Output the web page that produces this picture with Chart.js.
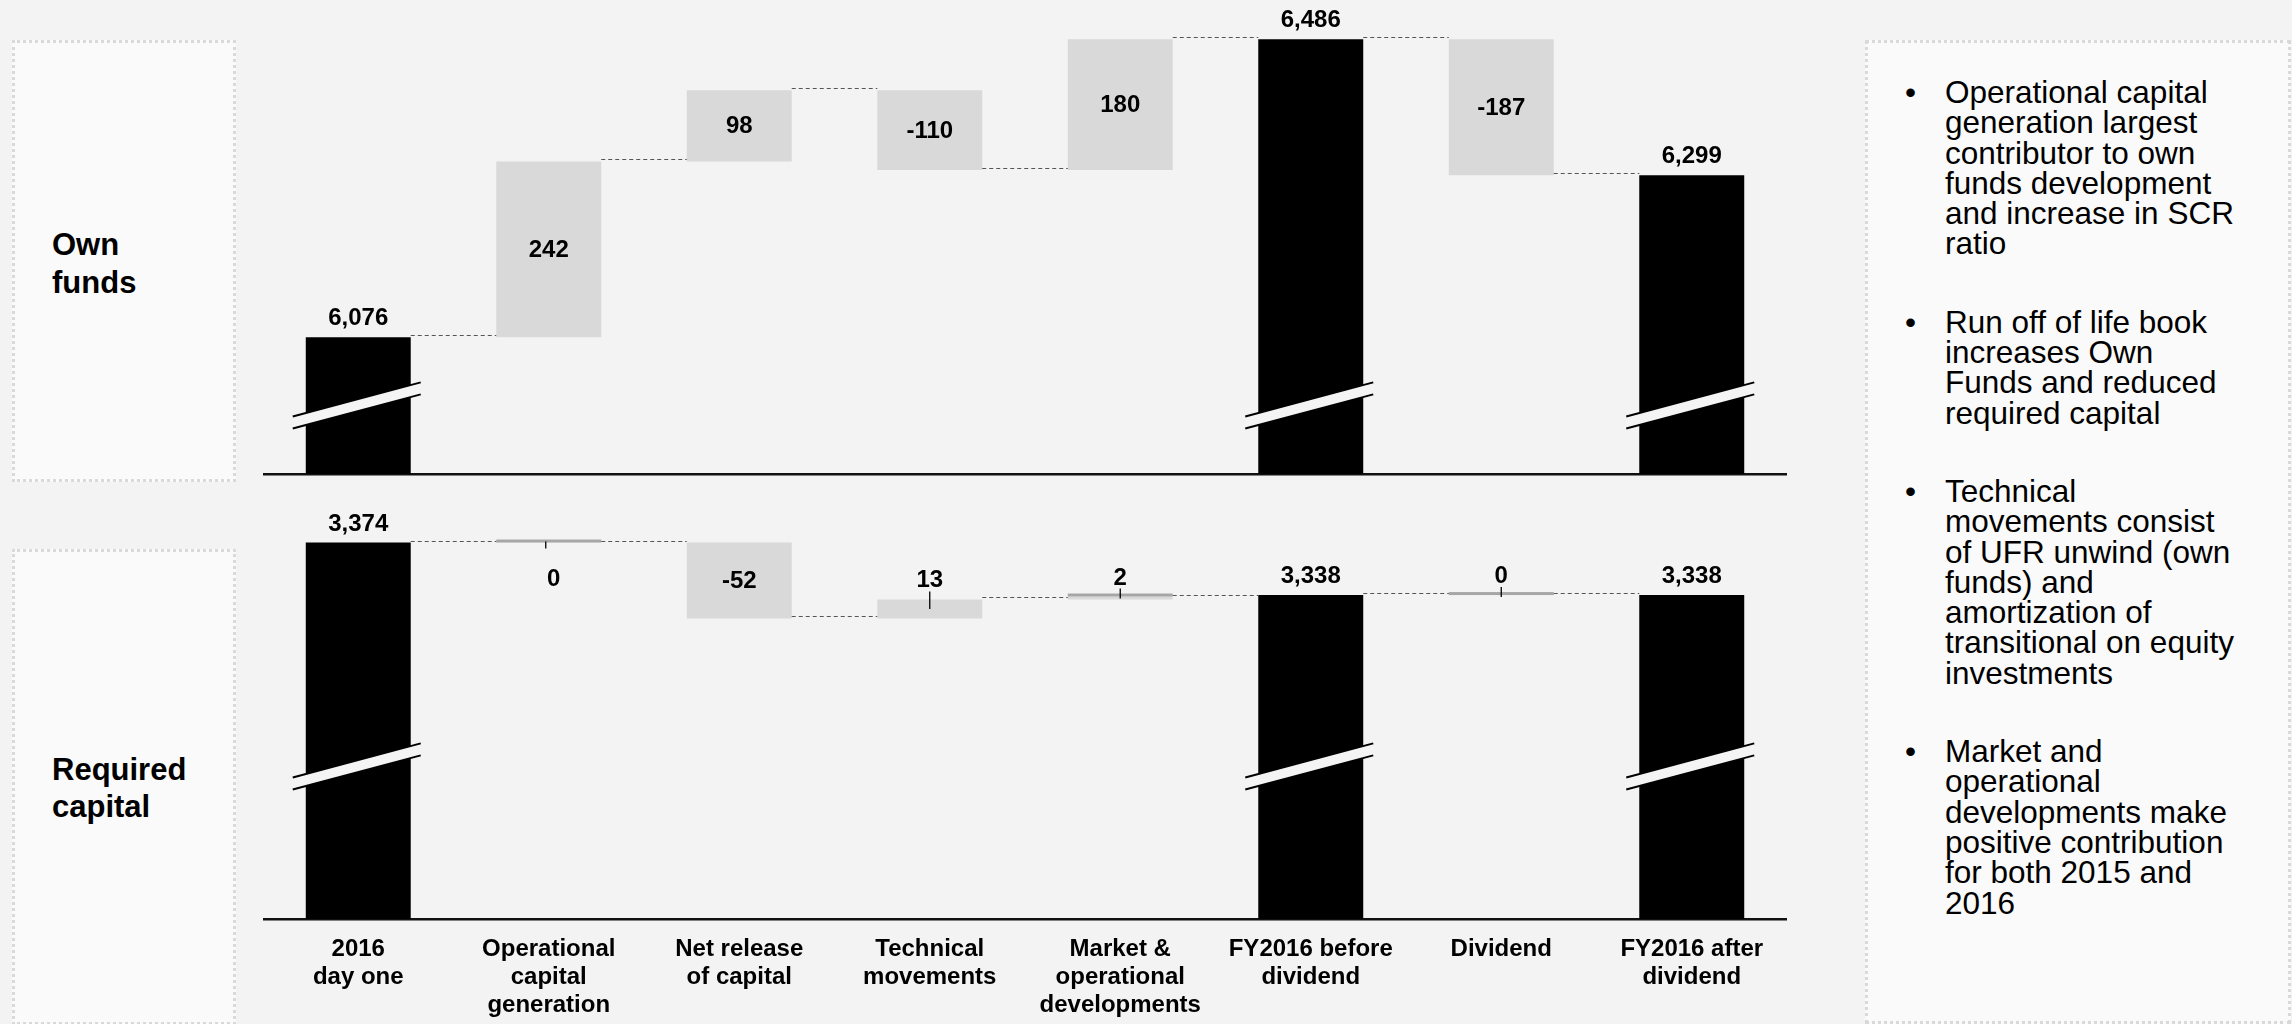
<!DOCTYPE html>
<html><head><meta charset="utf-8">
<script src="https://cdn.jsdelivr.net/npm/chart.js@4.4.0/dist/chart.umd.min.js"></script>
<style>
html,body{margin:0;padding:0;background:#f3f3f3;width:2292px;height:1024px;overflow:hidden;font-family:"Liberation Sans",Arial,sans-serif;}
.box{position:absolute;background:#fafafa;border:3px dotted #d9d9d9;box-sizing:border-box;}
.side{position:absolute;font-weight:bold;font-size:31px;color:#000;}
#notes{position:absolute;left:1945px;top:77px;font-size:31.5px;line-height:30.3px;color:#000;white-space:nowrap;}
#notes p{margin:0 0 48px 0;position:relative;}
#notes p::before{content:"\2022";position:absolute;left:-40px;top:0;}
.cv{position:absolute;}
</style></head><body>
<div class="box" style="left:12px;top:40px;width:224px;height:442px"></div>
<div class="box" style="left:12px;top:549px;width:224px;height:476px"></div>
<div class="box" style="left:1865px;top:40px;width:426px;height:984px"></div>
<div class="side" style="left:52px;top:226px;line-height:38px">Own<br>funds</div>
<div class="side" style="left:52px;top:751px;line-height:37px">Required<br>capital</div>
<div id="notes">
<p>Operational capital<br>generation largest<br>contributor to own<br>funds development<br>and increase in SCR<br>ratio</p>
<p>Run off of life book<br>increases Own<br>Funds and reduced<br>required capital</p>
<p>Technical<br>movements consist<br>of UFR unwind (own<br>funds) and<br>amortization of<br>transitional on equity<br>investments</p>
<p>Market and<br>operational<br>developments make<br>positive contribution<br>for both 2015 and<br>2016</p>
</div>
<div class="cv" style="left:263px;top:0;"><canvas id="c1" width="1524" height="480"></canvas></div>
<div class="cv" style="left:263px;top:490px;"><canvas id="c2" width="1524" height="534"></canvas></div>
<script>
const categories = [
  ['2016','day one'],
  ['Operational','capital','generation'],
  ['Net release','of capital'],
  ['Technical','movements'],
  ['Market &','operational','developments'],
  ['FY2016 before','dividend'],
  ['Dividend'],
  ['FY2016 after','dividend']
];
const ownFunds = [6076, 242, 98, -110, 180, 6486, -187, 6299];
const requiredCapital = [3374, 0, -52, 13, 2, 3338, 0, 3338];
const isTotal = [true, false, false, false, false, true, false, true];

const FONT = '"Liberation Sans", Arial, sans-serif';
Chart.defaults.font.family = FONT;

function waterfall(values) {
  let run = 0; const bars = []; const ends = [];
  values.forEach((v, i) => {
    if (isTotal[i]) { bars.push(v); run = v; }
    else { bars.push([run, run + v]); run += v; }
    ends.push(run);
  });
  return {bars, ends};
}

const deco = {
  id: 'deco',
  afterDatasetsDraw(chart, args, opts) {
    const ctx = chart.ctx, meta = chart.getDatasetMeta(0), ys = chart.scales.y, area = chart.chartArea;
    const ends = opts.ends, values = opts.values;
    ctx.save();
    meta.data.forEach((bar, i) => {
      if (isTotal[i]) return;
      const h = Math.abs(bar.y - bar.base);
      if (h < 6) {
        ctx.fillStyle = '#a6a6a6';
        ctx.fillRect(bar.x - bar.width / 2, ys.getPixelForValue(ends[i]) - 3, bar.width, 3);
      }
    });
    ctx.strokeStyle = '#555'; ctx.lineWidth = 1.2; ctx.setLineDash([4, 3]);
    for (let i = 0; i < meta.data.length - 1; i++) {
      const a = meta.data[i], b = meta.data[i + 1];
      const y = Math.round(ys.getPixelForValue(ends[i])) - 1.5;
      ctx.beginPath(); ctx.moveTo(a.x + a.width / 2, y); ctx.lineTo(b.x - b.width / 2, y); ctx.stroke();
    }
    ctx.setLineDash([]);
    meta.data.forEach((bar, i) => {
      if (!isTotal[i]) return;
      const cy = area.bottom - opts.breakOffset, cx = bar.x, s = -0.266, g = 6;
      const x0 = cx - bar.width / 2 - 13, x1 = cx + bar.width / 2 + 10;
      const yAt = (x, d) => cy + (x - cx) * s + d;
      ctx.fillStyle = '#f4f4f4';
      ctx.beginPath();
      ctx.moveTo(x0, yAt(x0, -g)); ctx.lineTo(x1, yAt(x1, -g));
      ctx.lineTo(x1, yAt(x1, g)); ctx.lineTo(x0, yAt(x0, g)); ctx.closePath(); ctx.fill();
      ctx.strokeStyle = '#000'; ctx.lineWidth = 2;
      [-g, g].forEach(d => { ctx.beginPath(); ctx.moveTo(x0, yAt(x0, d)); ctx.lineTo(x1, yAt(x1, d)); ctx.stroke(); });
    });
    ctx.font = 'bold 24px ' + FONT;
    ctx.fillStyle = '#000'; ctx.textAlign = 'center';
    meta.data.forEach((bar, i) => {
      const v = values[i]; const txt = v.toLocaleString('en-US');
      const top = Math.min(bar.y, bar.base), h = Math.abs(bar.y - bar.base), mid = (bar.y + bar.base) / 2;
      if (isTotal[i]) { ctx.textBaseline = 'alphabetic'; ctx.fillText(txt, bar.x, bar.y - 12); return; }
      if (h >= 30) { ctx.textBaseline = 'middle'; ctx.fillText(txt, bar.x, mid + 1); return; }
      ctx.strokeStyle = '#000'; ctx.lineWidth = 1.3;
      if (opts.below && opts.below.includes(i)) {
        ctx.textBaseline = 'middle'; ctx.fillText(txt, bar.x + 5, top + 37);
        ctx.beginPath(); ctx.moveTo(bar.x - 3, top - 1); ctx.lineTo(bar.x - 3, top + 6); ctx.stroke();
        return;
      }
      ctx.textBaseline = 'alphabetic'; ctx.fillText(txt, bar.x, top - 12);
      ctx.beginPath(); ctx.moveTo(bar.x, top - 8); ctx.lineTo(bar.x, Math.max(mid, top + 2)); ctx.stroke();
    });
    ctx.restore();
  }
};

function makeChart(id, values, yMin, yMax, opts, showTicks) {
  const wf = waterfall(values);
  return new Chart(document.getElementById(id), {
    type: 'bar',
    data: {
      labels: categories,
      datasets: [{
        data: wf.bars,
        backgroundColor: isTotal.map(t => t ? '#000000' : '#d9d9d9'),
        borderWidth: 0,
        barPercentage: 0.551,
        categoryPercentage: 1
      }]
    },
    options: {
      responsive: false, animation: false,
      layout: {padding: {top: 0, bottom: showTicks ? 0 : 6, left: 0, right: 0}},
      plugins: {legend: {display: false}, tooltip: {enabled: false},
        deco: Object.assign({}, opts, {ends: wf.ends, values: values})},
      scales: {
        x: {
          display: true,
          grid: {display: false, drawTicks: false},
          border: {display: true, color: '#111', width: 2.5},
          ticks: {display: showTicks, color: '#000', padding: 16, maxRotation: 0, autoSkip: false,
            font: {family: FONT, size: 24, weight: 'bold', lineHeight: 1.18}},
          afterFit: s => { s.height = showTicks ? 105 : 0; }
        },
        y: {display: false, min: yMin, max: yMax}
      }
    },
    plugins: [deco]
  });
}

makeChart('c1', ownFunds, 5888, 6540, {breakOffset: 69}, false);
makeChart('c2', requiredCapital, 3116, 3410, {breakOffset: 153, below: [1]}, true);
</script>
</body></html>
